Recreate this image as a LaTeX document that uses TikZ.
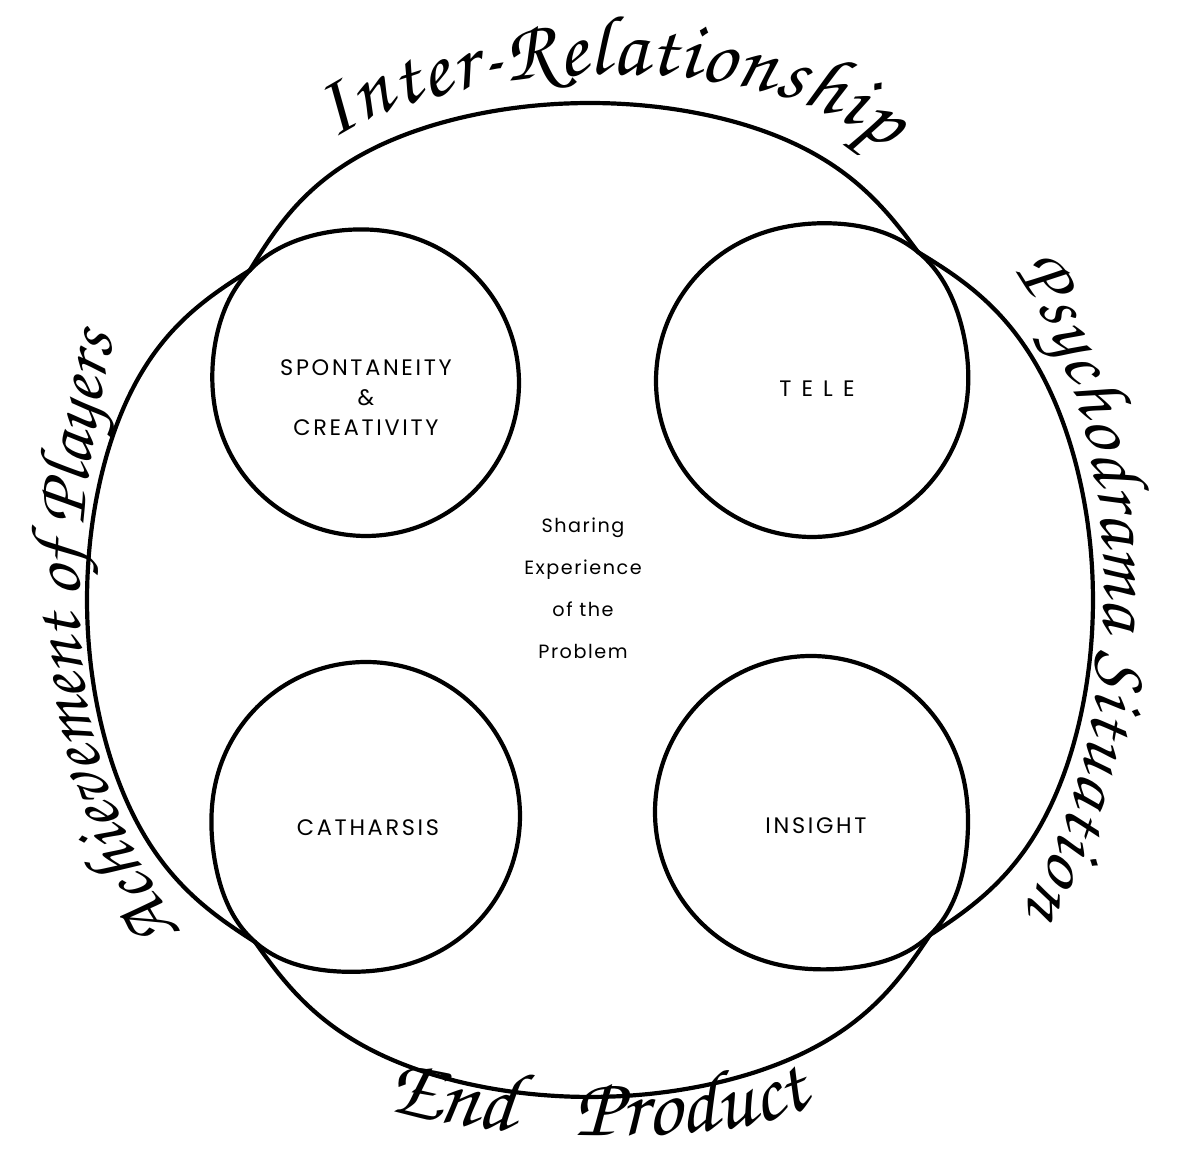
\documentclass[tikz,border=0pt]{standalone}
\usepackage{fontspec}
\setmainfont{Poppins}
\newfontfamily\capsfnt[LetterSpace=12]{Poppins}
\newfontfamily\telefnt[LetterSpace=45]{Poppins}
\newfontfamily\midfnt[LetterSpace=8]{Poppins}
\newfontfamily\handfnt{texgyrechorus-mediumitalic.otf}
\newcommand\handtop{\handfnt\fontsize{21}{22}\selectfont}
\newcommand\handright{\handfnt\fontsize{19}{20}\selectfont}
\newcommand\handleft{\handfnt\fontsize{18.5}{20}\selectfont}
\newcommand\handend{\handfnt\fontsize{21.5}{22}\selectfont}
\usetikzlibrary{decorations.text}
\begin{document}
\begin{tikzpicture}[x=0.25pt,y=-0.25pt,
  declare function={rb(\t)=500+3*cos(2*\t)+8*(sin(2*\t))^2;
                    ff(\d)=exp(-min(\d/18+(\d/16)^2,9));},
  outline/.style={line width=1.05pt, line join=round, line cap=round},
  capslabel/.style={font=\capsfnt\fontsize{5.6}{7.5}\selectfont, align=center, inner sep=0pt},
  telelabel/.style={font=\telefnt\fontsize{5.6}{7.5}\selectfont, inner sep=0pt},
  midlabel/.style={font=\midfnt\fontsize{4.8}{10.5}\selectfont, align=center, inner sep=0pt},
]
\fill[white] (0,0) rectangle (1182,1152);
\useasboundingbox (0,0) rectangle (1182,1152);

% crossing points of the outer curves
\coordinate (xTL) at (250,270);
\coordinate (xTR) at (918,252);
\coordinate (xBL) at (255,942);
\coordinate (xBR) at (930,935);

% four inner circles (slightly drawn out towards the crossings)
\draw[outline] plot[smooth, samples=145, domain=224.25:584.25]
  ({366+(153+8.9*(max(0,cos(\x-224.25)))^8)*cos(\x)},
   {383+(153+8.9*(max(0,cos(\x-224.25)))^8)*sin(\x)}) -- cycle;
\draw[outline] plot[smooth, samples=145, domain=309.41:669.41]
  ({812+(156+11*(max(0,cos(\x-309.41)))^8)*cos(\x)},
   {381+(156+11*(max(0,cos(\x-309.41)))^8)*sin(\x)}) -- cycle;
\draw[outline] plot[smooth, samples=145, domain=131.38:491.38]
  ({366+(154+13.9*(max(0,cos(\x-131.38)))^8)*cos(\x)},
   {816+(154+13.9*(max(0,cos(\x-131.38)))^8)*sin(\x)}) -- cycle;
\draw[outline] plot[smooth, samples=145, domain=45.94:405.94]
  ({811+(156+15.1*(max(0,cos(\x-45.94)))^8)*cos(\x)},
   {812+(156+15.1*(max(0,cos(\x-45.94)))^8)*sin(\x)}) -- cycle;

% outer arcs, pinched in towards the four crossings
\draw[outline] plot[smooth, samples=120, domain=224.1:313.3, variable=\t]
  ({590+(rb(\t)-34.3*ff(\t-224.1)-29.6*ff(313.3-\t))*cos(\t)},
   {600+(rb(\t)-34.3*ff(\t-224.1)-29.6*ff(313.3-\t))*sin(\t)});
\draw[outline] plot[smooth, samples=120, domain=-46.7:44.6, variable=\t]
  ({590+(rb(\t)-29.6*ff(\t+46.7)-30.7*ff(44.6-\t))*cos(\t)},
   {600+(rb(\t)-29.6*ff(\t+46.7)-30.7*ff(44.6-\t))*sin(\t)});
\draw[outline] plot[smooth, samples=120, domain=44.6:134.4, variable=\t]
  ({590+(rb(\t)-30.7*ff(\t-44.6)-29.2*ff(134.4-\t))*cos(\t)},
   {600+(rb(\t)-30.7*ff(\t-44.6)-29.2*ff(134.4-\t))*sin(\t)});
\draw[outline] plot[smooth, samples=120, domain=134.4:224.1, variable=\t]
  ({590+(rb(\t)-29.2*ff(\t-134.4)-34.3*ff(224.1-\t))*cos(\t)},
   {600+(rb(\t)-29.2*ff(\t-134.4)-34.3*ff(224.1-\t))*sin(\t)});

% inner labels
\node[capslabel] (spont) at (366,398) {SPONTANEITY\\\&\\CREATIVITY};
\node[telelabel] (tele) at (817,389) {TELE};
\node[capslabel] (cath) at (368,828) {CATHARSIS};
\node[capslabel] (insight) at (816,826) {INSIGHT};
\node[midlabel] (share) at (583,588) {Sharing\\Experience\\of the\\Problem};

% handwritten labels along the outline
\path[decorate, decoration={text along path, text={|\handtop|Inter-Relationship}, text align={fit to path}}]
  (333,140) .. controls (440,66) and (750,36) .. (885,150);
\path[decorate, decoration={text along path, text={|\handright|Psychodrama Situation}, text align={fit to path}}]
  (1014,270) .. controls (1077,362) and (1104,470) .. (1104,590)
  .. controls (1104,720) and (1072,830) .. (1024,908);
\path[decorate, decoration={text along path, text={|\handleft|Achievement of Players}, text align={fit to path}}]
  (182,932) .. controls (120,840) and (80,740) .. (80,610)
  .. controls (80,500) and (98,410) .. (114,336);
\path[decorate, decoration={text along path, text={|\handend|End Product}, text align={fit to path stretching spaces}}]
  (385,1109) .. controls (480,1139) and (720,1151) .. (812,1106);
\end{tikzpicture}
\end{document}
